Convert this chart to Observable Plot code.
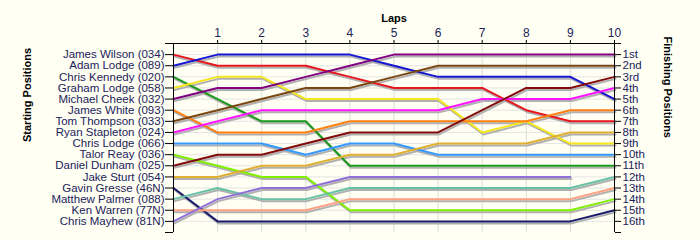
<!DOCTYPE html>
<html><head><meta charset="utf-8">
<script src="https://cdn.jsdelivr.net/npm/d3@7"></script>
<script src="https://cdn.jsdelivr.net/npm/@observablehq/plot@0.6"></script>
<style>
body{margin:0;background:#fffff4;}
#chart svg{background:#fffff4;font-family:"Liberation Sans",Arial,sans-serif;}
</style>
</head><body><div id="chart"></div>
<script>
const drivers = ["James Wilson (034)","Adam Lodge (089)","Chris Kennedy (020)","Graham Lodge (058)","Michael Cheek (032)","James White (093)","Tom Thompson (033)","Ryan Stapleton (024)","Chris Lodge (066)","Talor Reay (036)","Daniel Dunham (025)","Jake Sturt (054)","Gavin Gresse (46N)","Matthew Palmer (088)","Ken Warren (77N)","Chris Mayhew (81N)"];
const colors = ["#e8141c","#1414d2","#1a9a1a","#f5e61e","#800080","#ff8010","#7a4610","#ff14ff","#3399ff","#80f000","#820a0a","#e0b030","#1a1a6a","#66c2a5","#ffa080","#9070d8"];
const finishLabels = ["1st","2nd","3rd","4th","5th","6th","7th","8th","9th","10th","11th","12th","13th","14th","15th","16th"];
const lapTicks = [1,2,3,4,5,6,7,8,9,10];
// positions per lap (lap 0..10) for each driver, in starting order
const positions = [
  [1,2,2,2,3,4,4,4,6,7,7],
  [2,1,1,1,1,2,3,3,3,3,5],
  [3,5,7,7,11,11,11,11,11,11,11],
  [4,3,3,5,5,5,5,8,7,9,9],
  [5,4,4,3,2,1,1,1,1,1,1],
  [6,8,8,8,7,7,7,7,7,6,6],
  [7,6,5,4,4,3,2,2,2,2,2],
  [8,7,6,6,6,6,6,5,5,5,4],
  [9,9,9,10,9,9,10,10,10,10,10],
  [10,11,12,12,15,15,15,15,15,15,14],
  [11,10,10,9,8,8,8,6,4,4,3],
  [12,12,11,11,10,10,9,9,9,8,8],
  [13,16,16,16,16,16,16,16,16,16,15],
  [14,13,14,14,13,13,13,13,13,13,12],
  [15,15,15,15,14,14,14,14,14,14,13],
  [16,14,13,13,12,12,12,12,12,12]
];

const data = positions.flatMap((ps, i) => ps.map((p, lap) => ({driver: drivers[i], lap, pos: p})));
const textColor = "#22225a";

const chart = Plot.plot({
  width: 700, height: 240,
  marginLeft: 173, marginRight: 86, marginTop: 43, marginBottom: 8,
  style: {background: "#fffff4", fontFamily: "Liberation Sans, Arial, sans-serif", fontSize: "11px"},
  x: {domain: [0, 10], axis: null},
  y: {domain: [0, 17], reverse: true, axis: null},
  color: {domain: drivers, range: colors},
  marks: [
    Plot.gridX(d3.range(1, 10), {stroke: "#dcdcdc", strokeOpacity: 1}),
    Plot.gridY(d3.range(1, 17), {stroke: "#e4e4e4", strokeOpacity: 1}),
    Plot.line(data, {x: "lap", y: "pos", z: "driver", stroke: "#b0b0b0", strokeWidth: 2, dx: 1, dy: 2}),
    Plot.line(data, {x: "lap", y: "pos", z: "driver", stroke: "driver", strokeWidth: 2}),
    Plot.ruleX([0, 10], {stroke: "black"}),
    Plot.ruleY([0], {stroke: "black"}),
    Plot.axisX(lapTicks, {anchor: "top", label: null, tickSize: 4, tickPadding: 3, fill: textColor, fontSize: 12}),
    Plot.axisY(d3.range(0, 18), {anchor: "left", label: null, tickSize: 8, tickPadding: 1, fill: textColor, fontSize: 11.5,
      tickFormat: d => (d >= 1 && d <= 16) ? drivers[d - 1] : ""}),
    Plot.axisY(d3.range(0, 18), {anchor: "right", label: null, tickSize: 6, tickPadding: 2, fill: textColor, fontSize: 11.5,
      tickFormat: d => (d >= 1 && d <= 16) ? finishLabels[d - 1] : ""}),
    Plot.text(["Laps"], {frameAnchor: "top", dy: -29, fontWeight: "bold", fontSize: 11, fill: "black"}),
    Plot.text(["Starting Positions"], {frameAnchor: "left", dx: -146, dy: 4, rotate: -90, fontWeight: "bold", fontSize: 11, fill: "black"}),
    Plot.text(["Finishing Positions"], {frameAnchor: "right", dx: 53, dy: 0, rotate: 90, fontWeight: "bold", fontSize: 11, fill: "black"})
  ]
});
document.getElementById("chart").appendChild(chart);
</script>
</body></html>
